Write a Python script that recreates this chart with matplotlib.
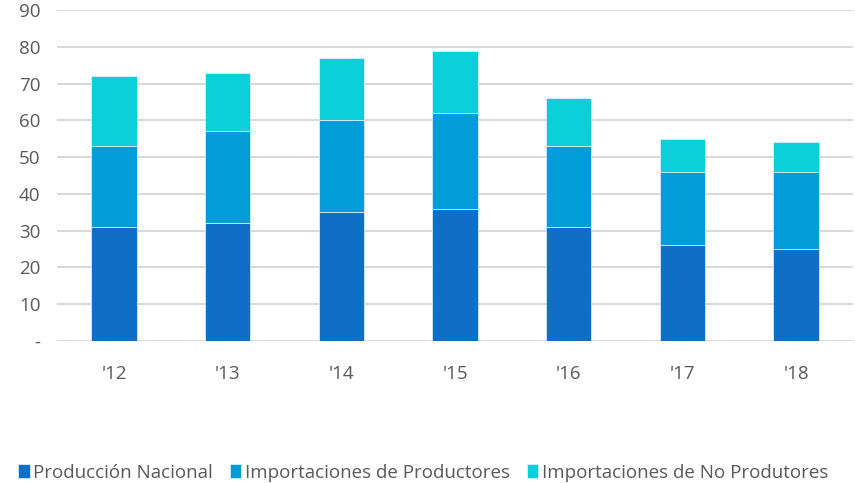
import numpy as np
import matplotlib.pyplot as plt

years = ["'12", "'13", "'14", "'15", "'16", "'17", "'18"]
nacional = [31, 32, 35, 36, 31, 26, 25]
imp_productores = [22, 25, 25, 26, 22, 20, 21]
imp_no_productores = [19, 16, 17, 17, 13, 9, 8]

colors = ['#0F6FC6', '#009DD9', '#0BD0D9']
labels = ['Producción Nacional', 'Importaciones de Productores',
          'Importaciones de No Produtores']

plt.rcParams['font.family'] = ['Open Sans', 'DejaVu Sans']
fig = plt.figure(figsize=(8.55, 4.83), dpi=100)
ax = fig.add_axes([0.0667, 0.294, 0.931, 0.685])

x = np.arange(len(years))
bottom = np.zeros(len(years))
for vals, c, lab in zip([nacional, imp_productores, imp_no_productores], colors, labels):
    ax.bar(x, vals, 0.4, bottom=bottom, color=c, label=lab,
           edgecolor='#E8F4FB', linewidth=0.5, zorder=3)
    bottom += np.array(vals)

ax.set_xlim(-0.5, len(years) - 0.5)
ax.set_ylim(0, 90)
ax.set_yticks(range(0, 91, 10))
ax.set_yticklabels(['-'] + [str(v) for v in range(10, 91, 10)])
ax.set_xticks(x)
ax.set_xticklabels(years)
ax.yaxis.grid(True, color='#D9D9D9', linewidth=1.5, zorder=0)
ax.set_axisbelow(True)
for s in ax.spines.values():
    s.set_visible(False)
ax.tick_params(length=0, labelsize=13.5, colors='#595959')
ax.tick_params(axis='x', pad=17)
ax.tick_params(axis='y', pad=12)

fig.legend(loc='lower center', bbox_to_anchor=(0.495, -0.032), ncol=3, frameon=False,
           fontsize=13.5, labelcolor='#595959', handlelength=0.6, handleheight=0.7,
           handletextpad=0.2, columnspacing=0.9)

fig.savefig('out.png', dpi=100)
